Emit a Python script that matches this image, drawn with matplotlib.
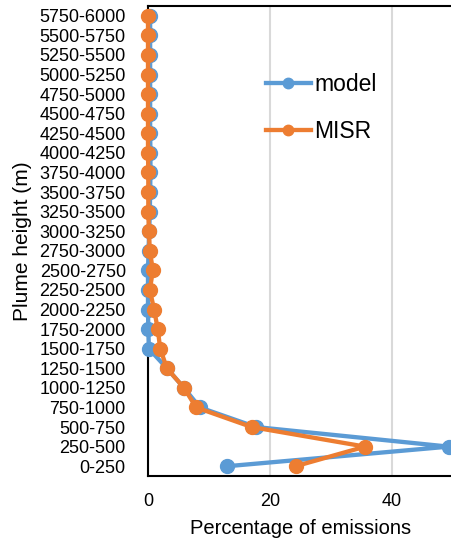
import matplotlib.pyplot as plt

plt.rcParams['font.family'] = ['Liberation Sans', 'DejaVu Sans']

heights = ['0-250', '250-500', '500-750', '750-1000', '1000-1250', '1250-1500',
           '1500-1750', '1750-2000', '2000-2250', '2250-2500', '2500-2750',
           '2750-3000', '3000-3250', '3250-3500', '3500-3750', '3750-4000',
           '4000-4250', '4250-4500', '4500-4750', '4750-5000', '5000-5250',
           '5250-5500', '5500-5750', '5750-6000']

model = [13.0, 49.3, 17.7, 8.5, 5.9, 3.1, 0.15, 0.05, 0.0, 0.0, 0.0, 0.1,
         0.2, 0.3, 0.35, 0.4, 0.4, 0.35, 0.35, 0.35, 0.35, 0.35, 0.35, 0.35]
misr = [24.2, 35.6, 17.0, 7.9, 5.9, 3.1, 2.0, 1.6, 1.0, 0.3, 0.8, 0.3,
        0.15, 0.05, 0.05, 0.05, 0.0, 0.0, 0.0, 0.0, 0.0, 0.0, 0.0, 0.0]

fig = plt.figure(figsize=(4.51, 5.45), dpi=100)
ax = fig.add_axes([148 / 451, 69 / 545, 305 / 451, 470 / 545])

pos = list(range(len(heights)))
ax.plot(model, pos, color='#5B9BD5', lw=3.1, marker='o', ms=10,
        label='model', zorder=3, clip_on=False)
ax.plot(misr, pos, color='#ED7D31', lw=3.1, marker='o', ms=10,
        label='MISR', zorder=4, clip_on=False)

ax.set_xlim(0, 50)
ax.set_ylim(-0.5, 23.5)
ax.set_xticks([0, 20, 40])
ax.set_yticks(pos)
ax.set_yticklabels(heights)
ax.tick_params(axis='y', length=0, pad=16, labelsize=13)
ax.tick_params(axis='x', length=0, pad=12, labelsize=13)
ax.xaxis.grid(True, color='#D9D9D9', lw=1.5)
ax.set_axisbelow(True)

for side in ['left', 'bottom', 'top']:
    ax.spines[side].set_color('black')
    ax.spines[side].set_linewidth(1.5)
ax.spines['right'].set_visible(False)

ax.set_xlabel('Percentage of emissions', fontsize=14.5, labelpad=7)
ax.set_ylabel('Plume height (m)', fontsize=15, labelpad=5)

ax.legend(loc='upper left', bbox_to_anchor=(266 / 451, 1 - 73 / 545),
          bbox_transform=fig.transFigure, frameon=False, fontsize=16.5,
          handlelength=1.95, handletextpad=0.15, labelspacing=1.05,
          markerscale=0.75, borderpad=0, borderaxespad=0)

fig.savefig('out.png', dpi=100)
